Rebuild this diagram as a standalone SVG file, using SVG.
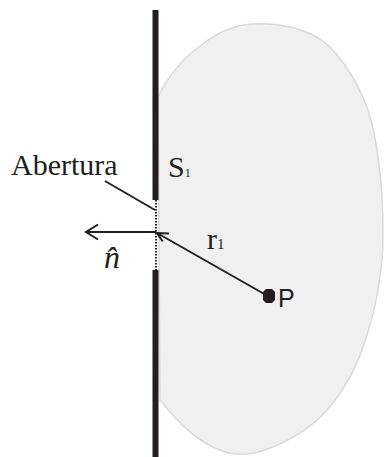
<svg xmlns="http://www.w3.org/2000/svg" width="384" height="457" viewBox="0 0 384 457">
<style>
.ln{stroke:#231f20;stroke-width:2;fill:none;stroke-linecap:butt;stroke-linejoin:miter}
.serif{font-family:"Liberation Serif","Times New Roman",serif;fill:#231f20}
.sans{font-family:"Liberation Sans",Arial,sans-serif;fill:#231f20}
</style>
<rect width="384" height="457" fill="#ffffff"/>
<g id="region">
<path d="M158,97 C165,82 180,60 200,46 C215,34 232,25 252,24 C275,23 295,26 315,36 C335,47 355,75 368,110 C378,140 383,190 383,233 C383,270 378,300 367,335 C358,365 345,390 327,410 C312,427 293,440 265,450 C250,455 235,455 225,452 C200,444 180,425 160,400 Z" fill="#f0f0f0" stroke="#d9d9d9" stroke-width="1.5"/>
</g>
<g id="wall">
<rect x="152.5" y="10" width="6" height="190" fill="#231f20"/>
<rect x="152.5" y="270" width="6" height="187" fill="#231f20"/>
<line x1="156" y1="200" x2="156" y2="270" stroke="#231f20" stroke-width="2" stroke-dasharray="1.5,1.5"/>
</g>
<g id="connectors">
<line class="ln" x1="156" y1="232" x2="86" y2="232"/>
<polyline class="ln" points="98,224.5 86,232 98,239.5"/>
<line class="ln" x1="157" y1="233" x2="266" y2="295"/>
<polyline class="ln" points="162.7,241.5 157,233 169,233.5"/>
<line class="ln" x1="105" y1="181" x2="155" y2="210" stroke-width="1.6"/>
</g>
<g id="label-abertura">
<text class="serif" x="11" y="175" font-size="30">Abertura</text>
</g>
<g id="label-s1">
<text class="serif" x="168" y="177" font-size="30">S<tspan font-size="12">1</tspan></text>
</g>
<g id="label-r1">
<text class="serif" x="207" y="249" font-size="30">r<tspan font-size="15">1</tspan></text>
</g>
<g id="label-n">
<text class="serif" x="104" y="268" font-size="32" font-style="italic" fill="#1a1a2a">n̂</text>
</g>
<g id="point-p">
<polygon points="266,289 272,289 275,292 275,300 272,303 266,303 263,300 263,292" fill="#231f20"/>
<text class="sans" x="278" y="307" font-size="25">P</text>
</g>
</svg>
